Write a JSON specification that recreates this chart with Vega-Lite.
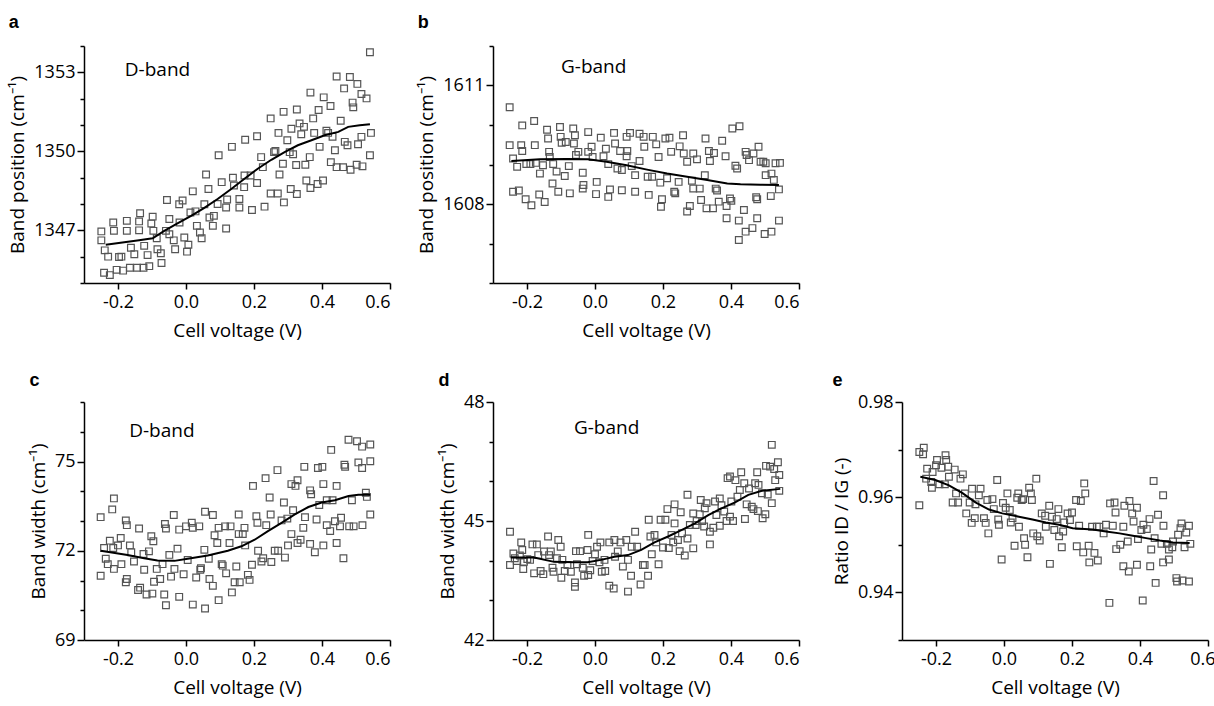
{
"$schema":"https://vega.github.io/schema/vega-lite/v6.json",
"padding":{"left":8,"top":14,"right":0,"bottom":6},
"background":"white",
"config":{"font":"Open Sans","view":{"stroke":null},
"axis":{"grid":false,"domainColor":"#000","domainWidth":1.5,"tickColor":"#000","tickWidth":1.5,"labelColor":"#000","titleColor":"#000","labelFontSize":18,"titleFontSize":19,"titleFontWeight":"normal","labelFont":"Open Sans","titleFont":"Open Sans","labelOverlap":false,"labelBound":false,"tickCount":20},
"axisX":{"tickSize":6,"labelPadding":4,"titlePadding":10},
"axisY":{"labelPadding":2,"titlePadding":6},
"title":{"anchor":"start","frame":"bounds","baseline":"alphabetic","fontSize":18,"fontWeight":"bold","font":"Liberation Sans","color":"#000"},
"point":{"shape":"square","filled":false,"size":45,"stroke":"#555","strokeWidth":1.2,"opacity":1},
"line":{"color":"#000","strokeWidth":2},
"text":{"align":"left","baseline":"middle","fontSize":19,"font":"Open Sans","color":"#000"}},
"datasets":{
"a":[{"v":-0.249,"y":1346.96},{"v":-0.249,"y":1346.62},{"v":-0.239,"y":1346.24},{"v":-0.229,"y":1346.0},{"v":-0.241,"y":1345.39},{"v":-0.224,"y":1345.3},{"v":-0.214,"y":1347.3},{"v":-0.212,"y":1346.98},{"v":-0.197,"y":1345.99},{"v":-0.19,"y":1346.0},{"v":-0.204,"y":1345.5},{"v":-0.185,"y":1345.47},{"v":-0.174,"y":1347.36},{"v":-0.174,"y":1346.98},{"v":-0.162,"y":1346.34},{"v":-0.165,"y":1345.58},{"v":-0.152,"y":1346.09},{"v":-0.144,"y":1345.58},{"v":-0.138,"y":1347.34},{"v":-0.138,"y":1347.0},{"v":-0.135,"y":1347.65},{"v":-0.125,"y":1345.58},{"v":-0.123,"y":1346.41},{"v":-0.108,"y":1345.64},{"v":-0.113,"y":1346.06},{"v":-0.102,"y":1347.26},{"v":-0.098,"y":1347.52},{"v":-0.096,"y":1346.98},{"v":-0.086,"y":1346.7},{"v":-0.084,"y":1346.28},{"v":-0.074,"y":1346.13},{"v":-0.072,"y":1345.76},{"v":-0.059,"y":1346.98},{"v":-0.056,"y":1348.15},{"v":-0.049,"y":1347.43},{"v":-0.049,"y":1346.85},{"v":-0.036,"y":1346.62},{"v":-0.032,"y":1346.28},{"v":-0.019,"y":1347.3},{"v":-0.02,"y":1347.99},{"v":-0.01,"y":1348.13},{"v":-0.005,"y":1346.73},{"v":0.003,"y":1346.19},{"v":0.007,"y":1346.45},{"v":0.013,"y":1347.68},{"v":0.02,"y":1348.48},{"v":0.028,"y":1347.72},{"v":0.032,"y":1347.17},{"v":0.041,"y":1346.92},{"v":0.046,"y":1346.7},{"v":0.054,"y":1347.99},{"v":0.059,"y":1349.12},{"v":0.066,"y":1348.57},{"v":0.069,"y":1347.49},{"v":0.082,"y":1347.55},{"v":0.079,"y":1347.17},{"v":0.096,"y":1349.85},{"v":0.093,"y":1348.0},{"v":0.105,"y":1348.83},{"v":0.118,"y":1347.87},{"v":0.121,"y":1348.17},{"v":0.118,"y":1347.07},{"v":0.135,"y":1350.17},{"v":0.138,"y":1349.0},{"v":0.141,"y":1348.7},{"v":0.157,"y":1348.19},{"v":0.157,"y":1347.87},{"v":0.171,"y":1348.64},{"v":0.172,"y":1349.08},{"v":0.174,"y":1350.44},{"v":0.194,"y":1347.77},{"v":0.19,"y":1349.08},{"v":0.209,"y":1350.57},{"v":0.209,"y":1348.8},{"v":0.221,"y":1349.78},{"v":0.226,"y":1349.4},{"v":0.231,"y":1347.9},{"v":0.249,"y":1351.25},{"v":0.249,"y":1348.4},{"v":0.259,"y":1349.97},{"v":0.263,"y":1350.01},{"v":0.27,"y":1348.4},{"v":0.275,"y":1349.12},{"v":0.272,"y":1350.7},{"v":0.285,"y":1349.53},{"v":0.287,"y":1351.5},{"v":0.288,"y":1348.06},{"v":0.298,"y":1350.42},{"v":0.305,"y":1349.97},{"v":0.308,"y":1348.57},{"v":0.315,"y":1349.89},{"v":0.31,"y":1350.86},{"v":0.326,"y":1351.59},{"v":0.324,"y":1349.48},{"v":0.326,"y":1348.38},{"v":0.334,"y":1351.06},{"v":0.339,"y":1350.65},{"v":0.347,"y":1350.93},{"v":0.351,"y":1349.49},{"v":0.354,"y":1348.89},{"v":0.364,"y":1349.78},{"v":0.366,"y":1348.61},{"v":0.366,"y":1352.23},{"v":0.374,"y":1351.25},{"v":0.377,"y":1350.7},{"v":0.387,"y":1348.76},{"v":0.39,"y":1351.57},{"v":0.393,"y":1350.17},{"v":0.403,"y":1348.89},{"v":0.405,"y":1352.05},{"v":0.413,"y":1350.78},{"v":0.418,"y":1350.7},{"v":0.425,"y":1351.72},{"v":0.426,"y":1349.59},{"v":0.431,"y":1350.55},{"v":0.438,"y":1350.04},{"v":0.443,"y":1349.4},{"v":0.443,"y":1352.84},{"v":0.455,"y":1351.16},{"v":0.462,"y":1349.4},{"v":0.465,"y":1352.39},{"v":0.467,"y":1350.36},{"v":0.475,"y":1350.23},{"v":0.482,"y":1352.82},{"v":0.484,"y":1349.3},{"v":0.49,"y":1351.85},{"v":0.492,"y":1351.67},{"v":0.502,"y":1349.49},{"v":0.504,"y":1352.56},{"v":0.506,"y":1350.27},{"v":0.516,"y":1352.18},{"v":0.516,"y":1350.55},{"v":0.519,"y":1349.43},{"v":0.531,"y":1352.01},{"v":0.541,"y":1353.76},{"v":0.541,"y":1349.85},{"v":0.544,"y":1350.7}],
"af":[{"v":-0.236,"y":1346.45},{"v":-0.138,"y":1346.62},{"v":-0.098,"y":1346.7},{"v":-0.064,"y":1346.98},{"v":-0.025,"y":1347.26},{"v":0.015,"y":1347.55},{"v":0.054,"y":1347.85},{"v":0.093,"y":1348.19},{"v":0.133,"y":1348.57},{"v":0.172,"y":1348.96},{"v":0.211,"y":1349.34},{"v":0.251,"y":1349.68},{"v":0.29,"y":1349.97},{"v":0.329,"y":1350.23},{"v":0.369,"y":1350.42},{"v":0.408,"y":1350.61},{"v":0.448,"y":1350.74},{"v":0.477,"y":1350.93},{"v":0.511,"y":1350.99},{"v":0.541,"y":1351.03}],
"b":[{"v":-0.251,"y":1610.45},{"v":-0.251,"y":1609.49},{"v":-0.241,"y":1609.15},{"v":-0.241,"y":1608.31},{"v":-0.229,"y":1608.94},{"v":-0.224,"y":1608.34},{"v":-0.217,"y":1609.49},{"v":-0.214,"y":1609.99},{"v":-0.214,"y":1609.34},{"v":-0.204,"y":1608.12},{"v":-0.202,"y":1609.01},{"v":-0.187,"y":1607.97},{"v":-0.19,"y":1609.01},{"v":-0.179,"y":1610.1},{"v":-0.177,"y":1609.49},{"v":-0.174,"y":1609.04},{"v":-0.164,"y":1608.24},{"v":-0.162,"y":1608.77},{"v":-0.153,"y":1608.98},{"v":-0.148,"y":1608.05},{"v":-0.141,"y":1609.88},{"v":-0.138,"y":1609.66},{"v":-0.135,"y":1609.32},{"v":-0.133,"y":1609.19},{"v":-0.123,"y":1609.01},{"v":-0.125,"y":1608.52},{"v":-0.113,"y":1608.82},{"v":-0.108,"y":1608.31},{"v":-0.103,"y":1609.95},{"v":-0.101,"y":1609.7},{"v":-0.098,"y":1609.55},{"v":-0.086,"y":1609.57},{"v":-0.089,"y":1608.71},{"v":-0.074,"y":1608.27},{"v":-0.077,"y":1608.96},{"v":-0.064,"y":1609.91},{"v":-0.059,"y":1609.74},{"v":-0.062,"y":1609.53},{"v":-0.056,"y":1609.24},{"v":-0.049,"y":1609.32},{"v":-0.036,"y":1608.79},{"v":-0.034,"y":1608.48},{"v":-0.036,"y":1608.39},{"v":-0.02,"y":1609.82},{"v":-0.02,"y":1609.32},{"v":-0.01,"y":1609.45},{"v":-0.007,"y":1609.19},{"v":0.003,"y":1608.25},{"v":0.005,"y":1608.56},{"v":0.017,"y":1609.68},{"v":0.025,"y":1609.21},{"v":0.032,"y":1609.4},{"v":0.039,"y":1609.01},{"v":0.039,"y":1608.18},{"v":0.044,"y":1608.37},{"v":0.056,"y":1609.8},{"v":0.059,"y":1609.53},{"v":0.066,"y":1608.9},{"v":0.074,"y":1609.34},{"v":0.079,"y":1608.86},{"v":0.079,"y":1608.35},{"v":0.093,"y":1609.7},{"v":0.093,"y":1609.21},{"v":0.095,"y":1609.34},{"v":0.103,"y":1609.8},{"v":0.108,"y":1608.96},{"v":0.118,"y":1608.73},{"v":0.118,"y":1608.31},{"v":0.131,"y":1609.09},{"v":0.131,"y":1609.78},{"v":0.143,"y":1609.7},{"v":0.145,"y":1609.45},{"v":0.155,"y":1608.69},{"v":0.158,"y":1608.23},{"v":0.168,"y":1608.69},{"v":0.17,"y":1609.7},{"v":0.18,"y":1609.51},{"v":0.187,"y":1609.19},{"v":0.192,"y":1608.54},{"v":0.194,"y":1607.93},{"v":0.197,"y":1608.12},{"v":0.207,"y":1609.66},{"v":0.212,"y":1608.65},{"v":0.219,"y":1609.68},{"v":0.224,"y":1609.32},{"v":0.233,"y":1608.31},{"v":0.236,"y":1608.27},{"v":0.249,"y":1609.46},{"v":0.246,"y":1608.56},{"v":0.259,"y":1609.74},{"v":0.261,"y":1609.28},{"v":0.271,"y":1609.07},{"v":0.271,"y":1607.81},{"v":0.279,"y":1607.95},{"v":0.285,"y":1608.59},{"v":0.289,"y":1609.28},{"v":0.289,"y":1608.39},{"v":0.3,"y":1609.13},{"v":0.308,"y":1608.39},{"v":0.312,"y":1608.1},{"v":0.325,"y":1609.66},{"v":0.323,"y":1608.73},{"v":0.328,"y":1607.89},{"v":0.335,"y":1609.34},{"v":0.338,"y":1609.09},{"v":0.347,"y":1607.89},{"v":0.35,"y":1609.29},{"v":0.355,"y":1608.39},{"v":0.359,"y":1608.34},{"v":0.364,"y":1608.06},{"v":0.374,"y":1609.6},{"v":0.384,"y":1609.21},{"v":0.387,"y":1607.95},{"v":0.387,"y":1607.64},{"v":0.397,"y":1608.14},{"v":0.401,"y":1608.08},{"v":0.404,"y":1609.91},{"v":0.413,"y":1608.97},{"v":0.418,"y":1608.9},{"v":0.425,"y":1609.97},{"v":0.423,"y":1607.58},{"v":0.438,"y":1607.85},{"v":0.443,"y":1609.32},{"v":0.446,"y":1609.24},{"v":0.443,"y":1607.3},{"v":0.453,"y":1609.11},{"v":0.463,"y":1607.39},{"v":0.466,"y":1609.28},{"v":0.474,"y":1608.17},{"v":0.477,"y":1607.64},{"v":0.477,"y":1608.12},{"v":0.481,"y":1609.45},{"v":0.487,"y":1609.07},{"v":0.495,"y":1609.07},{"v":0.502,"y":1608.73},{"v":0.502,"y":1609.03},{"v":0.499,"y":1607.24},{"v":0.517,"y":1608.2},{"v":0.519,"y":1608.77},{"v":0.519,"y":1607.3},{"v":0.526,"y":1608.61},{"v":0.531,"y":1609.03},{"v":0.541,"y":1607.58},{"v":0.541,"y":1608.37},{"v":0.544,"y":1609.04},{"v":0.423,"y":1607.09}],
"bf":[{"v":-0.246,"y":1609.09},{"v":-0.162,"y":1609.13},{"v":-0.084,"y":1609.14},{"v":-0.02,"y":1609.13},{"v":0.034,"y":1609.07},{"v":0.093,"y":1608.98},{"v":0.153,"y":1608.87},{"v":0.212,"y":1608.77},{"v":0.271,"y":1608.69},{"v":0.33,"y":1608.61},{"v":0.389,"y":1608.52},{"v":0.428,"y":1608.5},{"v":0.487,"y":1608.49},{"v":0.541,"y":1608.48}],
"c":[{"v":-0.251,"y":73.13},{"v":-0.251,"y":71.16},{"v":-0.241,"y":72.09},{"v":-0.236,"y":71.73},{"v":-0.23,"y":71.55},{"v":-0.224,"y":72.34},{"v":-0.217,"y":73.39},{"v":-0.212,"y":73.76},{"v":-0.212,"y":71.39},{"v":-0.214,"y":72.09},{"v":-0.2,"y":72.18},{"v":-0.192,"y":72.43},{"v":-0.19,"y":71.55},{"v":-0.177,"y":73.02},{"v":-0.174,"y":72.86},{"v":-0.177,"y":70.94},{"v":-0.174,"y":71.05},{"v":-0.165,"y":72.18},{"v":-0.161,"y":71.95},{"v":-0.153,"y":71.64},{"v":-0.141,"y":70.68},{"v":-0.138,"y":72.75},{"v":-0.135,"y":70.76},{"v":-0.125,"y":71.89},{"v":-0.123,"y":71.36},{"v":-0.116,"y":70.53},{"v":-0.109,"y":71.98},{"v":-0.102,"y":72.49},{"v":-0.099,"y":70.56},{"v":-0.096,"y":72.32},{"v":-0.094,"y":70.96},{"v":-0.086,"y":71.39},{"v":-0.076,"y":71.05},{"v":-0.069,"y":71.55},{"v":-0.064,"y":70.53},{"v":-0.062,"y":72.9},{"v":-0.059,"y":70.17},{"v":-0.059,"y":72.75},{"v":-0.049,"y":71.86},{"v":-0.044,"y":71.13},{"v":-0.036,"y":73.2},{"v":-0.034,"y":71.39},{"v":-0.025,"y":72.07},{"v":-0.02,"y":70.45},{"v":-0.02,"y":72.71},{"v":-0.007,"y":71.21},{"v":0.0,"y":72.82},{"v":0.005,"y":71.69},{"v":0.017,"y":72.94},{"v":0.02,"y":72.77},{"v":0.02,"y":70.19},{"v":0.03,"y":71.1},{"v":0.039,"y":72.82},{"v":0.042,"y":71.36},{"v":0.044,"y":71.41},{"v":0.056,"y":73.31},{"v":0.056,"y":70.06},{"v":0.054,"y":72.03},{"v":0.067,"y":71.73},{"v":0.069,"y":71.05},{"v":0.079,"y":73.2},{"v":0.079,"y":70.82},{"v":0.084,"y":72.52},{"v":0.092,"y":72.26},{"v":0.096,"y":70.34},{"v":0.096,"y":72.77},{"v":0.105,"y":71.55},{"v":0.108,"y":71.5},{"v":0.115,"y":72.82},{"v":0.118,"y":71.24},{"v":0.131,"y":72.82},{"v":0.128,"y":72.26},{"v":0.135,"y":70.6},{"v":0.143,"y":70.94},{"v":0.148,"y":71.47},{"v":0.155,"y":73.22},{"v":0.155,"y":72.56},{"v":0.158,"y":70.94},{"v":0.167,"y":72.56},{"v":0.172,"y":72.77},{"v":0.174,"y":72.18},{"v":0.182,"y":71.19},{"v":0.187,"y":71.02},{"v":0.194,"y":71.53},{"v":0.197,"y":74.18},{"v":0.207,"y":73.16},{"v":0.21,"y":72.94},{"v":0.212,"y":72.0},{"v":0.222,"y":71.64},{"v":0.227,"y":71.75},{"v":0.234,"y":74.44},{"v":0.236,"y":72.86},{"v":0.246,"y":73.79},{"v":0.249,"y":73.22},{"v":0.251,"y":71.62},{"v":0.261,"y":72.0},{"v":0.269,"y":74.71},{"v":0.271,"y":72.0},{"v":0.281,"y":73.02},{"v":0.288,"y":73.62},{"v":0.291,"y":71.77},{"v":0.298,"y":73.08},{"v":0.3,"y":72.18},{"v":0.31,"y":72.56},{"v":0.31,"y":74.24},{"v":0.315,"y":73.36},{"v":0.322,"y":74.18},{"v":0.328,"y":74.37},{"v":0.328,"y":72.26},{"v":0.337,"y":72.37},{"v":0.345,"y":72.77},{"v":0.35,"y":73.13},{"v":0.348,"y":74.82},{"v":0.365,"y":74.03},{"v":0.365,"y":72.23},{"v":0.368,"y":73.9},{"v":0.379,"y":71.95},{"v":0.384,"y":73.05},{"v":0.388,"y":74.78},{"v":0.392,"y":73.54},{"v":0.401,"y":74.82},{"v":0.404,"y":74.24},{"v":0.404,"y":72.18},{"v":0.414,"y":72.86},{"v":0.414,"y":73.7},{"v":0.424,"y":72.66},{"v":0.427,"y":75.39},{"v":0.431,"y":73.7},{"v":0.438,"y":72.99},{"v":0.443,"y":74.18},{"v":0.443,"y":72.26},{"v":0.453,"y":72.82},{"v":0.456,"y":73.11},{"v":0.463,"y":71.75},{"v":0.466,"y":74.89},{"v":0.468,"y":74.82},{"v":0.478,"y":75.73},{"v":0.48,"y":72.82},{"v":0.488,"y":73.7},{"v":0.493,"y":72.82},{"v":0.503,"y":75.68},{"v":0.507,"y":74.97},{"v":0.518,"y":75.5},{"v":0.518,"y":74.78},{"v":0.519,"y":72.86},{"v":0.529,"y":73.95},{"v":0.532,"y":73.81},{"v":0.542,"y":75.57},{"v":0.542,"y":75.01},{"v":0.542,"y":73.22}],
"cf":[{"v":-0.251,"y":72.0},{"v":-0.172,"y":71.86},{"v":-0.123,"y":71.75},{"v":-0.084,"y":71.67},{"v":-0.034,"y":71.66},{"v":0.005,"y":71.73},{"v":0.064,"y":71.84},{"v":0.123,"y":72.0},{"v":0.163,"y":72.15},{"v":0.202,"y":72.37},{"v":0.241,"y":72.66},{"v":0.281,"y":72.94},{"v":0.32,"y":73.22},{"v":0.36,"y":73.47},{"v":0.399,"y":73.62},{"v":0.438,"y":73.7},{"v":0.478,"y":73.84},{"v":0.507,"y":73.88},{"v":0.542,"y":73.88}],
"d":[{"v":-0.25,"y":44.73},{"v":-0.25,"y":43.89},{"v":-0.24,"y":44.18},{"v":-0.236,"y":44.06},{"v":-0.23,"y":43.99},{"v":-0.221,"y":44.13},{"v":-0.217,"y":44.46},{"v":-0.214,"y":44.27},{"v":-0.211,"y":43.79},{"v":-0.209,"y":43.97},{"v":-0.199,"y":44.04},{"v":-0.191,"y":44.02},{"v":-0.184,"y":44.41},{"v":-0.179,"y":43.68},{"v":-0.171,"y":44.41},{"v":-0.167,"y":44.14},{"v":-0.16,"y":43.74},{"v":-0.152,"y":43.66},{"v":-0.15,"y":44.23},{"v":-0.138,"y":44.61},{"v":-0.135,"y":44.14},{"v":-0.13,"y":44.23},{"v":-0.125,"y":43.82},{"v":-0.122,"y":43.72},{"v":-0.112,"y":44.06},{"v":-0.108,"y":44.52},{"v":-0.101,"y":44.35},{"v":-0.099,"y":43.57},{"v":-0.096,"y":44.02},{"v":-0.089,"y":43.74},{"v":-0.081,"y":43.89},{"v":-0.071,"y":43.72},{"v":-0.059,"y":43.45},{"v":-0.059,"y":43.34},{"v":-0.056,"y":44.24},{"v":-0.053,"y":43.91},{"v":-0.044,"y":44.24},{"v":-0.036,"y":43.82},{"v":-0.032,"y":43.62},{"v":-0.022,"y":44.27},{"v":-0.02,"y":44.65},{"v":-0.02,"y":43.64},{"v":-0.014,"y":43.76},{"v":-0.007,"y":43.99},{"v":0.0,"y":44.16},{"v":0.006,"y":44.35},{"v":0.013,"y":43.96},{"v":0.016,"y":44.46},{"v":0.02,"y":43.72},{"v":0.028,"y":44.02},{"v":0.03,"y":43.74},{"v":0.042,"y":44.46},{"v":0.042,"y":43.37},{"v":0.055,"y":43.3},{"v":0.057,"y":44.52},{"v":0.059,"y":44.1},{"v":0.067,"y":44.23},{"v":0.075,"y":44.46},{"v":0.082,"y":43.85},{"v":0.092,"y":44.52},{"v":0.097,"y":43.22},{"v":0.097,"y":44.02},{"v":0.106,"y":43.62},{"v":0.108,"y":44.35},{"v":0.118,"y":44.73},{"v":0.124,"y":44.35},{"v":0.134,"y":43.4},{"v":0.141,"y":43.89},{"v":0.146,"y":43.89},{"v":0.156,"y":43.62},{"v":0.158,"y":45.03},{"v":0.163,"y":44.61},{"v":0.167,"y":44.16},{"v":0.175,"y":44.65},{"v":0.18,"y":44.46},{"v":0.187,"y":43.91},{"v":0.193,"y":45.03},{"v":0.2,"y":44.33},{"v":0.207,"y":45.03},{"v":0.213,"y":45.3},{"v":0.217,"y":44.32},{"v":0.225,"y":44.65},{"v":0.23,"y":44.46},{"v":0.234,"y":45.42},{"v":0.234,"y":44.94},{"v":0.244,"y":44.52},{"v":0.249,"y":44.24},{"v":0.252,"y":45.22},{"v":0.256,"y":44.69},{"v":0.264,"y":44.13},{"v":0.272,"y":45.66},{"v":0.272,"y":44.56},{"v":0.279,"y":44.9},{"v":0.289,"y":45.19},{"v":0.289,"y":44.31},{"v":0.296,"y":44.9},{"v":0.299,"y":45.0},{"v":0.308,"y":45.17},{"v":0.311,"y":45.53},{"v":0.315,"y":45.0},{"v":0.321,"y":44.86},{"v":0.323,"y":45.32},{"v":0.328,"y":45.45},{"v":0.338,"y":44.73},{"v":0.338,"y":44.41},{"v":0.348,"y":44.83},{"v":0.353,"y":45.49},{"v":0.357,"y":45.15},{"v":0.367,"y":45.57},{"v":0.367,"y":44.88},{"v":0.372,"y":45.4},{"v":0.38,"y":45.24},{"v":0.387,"y":45.0},{"v":0.39,"y":46.08},{"v":0.397,"y":46.12},{"v":0.397,"y":45.11},{"v":0.401,"y":45.49},{"v":0.406,"y":45.0},{"v":0.413,"y":46.03},{"v":0.419,"y":45.61},{"v":0.426,"y":45.78},{"v":0.43,"y":46.23},{"v":0.439,"y":45.95},{"v":0.441,"y":45.05},{"v":0.446,"y":45.42},{"v":0.453,"y":45.82},{"v":0.461,"y":45.36},{"v":0.466,"y":45.3},{"v":0.471,"y":45.95},{"v":0.477,"y":46.23},{"v":0.479,"y":45.25},{"v":0.481,"y":45.91},{"v":0.491,"y":45.7},{"v":0.493,"y":45.07},{"v":0.501,"y":45.17},{"v":0.503,"y":46.39},{"v":0.508,"y":45.67},{"v":0.515,"y":46.37},{"v":0.52,"y":46.92},{"v":0.52,"y":45.45},{"v":0.527,"y":46.31},{"v":0.53,"y":46.03},{"v":0.538,"y":46.48},{"v":0.542,"y":46.16},{"v":0.542,"y":45.76}],
"df":[{"v":-0.248,"y":44.08},{"v":-0.179,"y":44.08},{"v":-0.12,"y":43.97},{"v":-0.061,"y":43.96},{"v":-0.022,"y":43.96},{"v":0.018,"y":44.02},{"v":0.057,"y":44.1},{"v":0.097,"y":44.14},{"v":0.136,"y":44.27},{"v":0.175,"y":44.46},{"v":0.215,"y":44.61},{"v":0.254,"y":44.77},{"v":0.294,"y":44.94},{"v":0.333,"y":45.15},{"v":0.372,"y":45.32},{"v":0.412,"y":45.47},{"v":0.451,"y":45.66},{"v":0.491,"y":45.76},{"v":0.545,"y":45.81}],
"e":[{"v":-0.249,"y":0.9695},{"v":-0.236,"y":0.9704},{"v":-0.238,"y":0.969},{"v":-0.249,"y":0.9583},{"v":-0.226,"y":0.966},{"v":-0.229,"y":0.9639},{"v":-0.214,"y":0.9632},{"v":-0.212,"y":0.962},{"v":-0.21,"y":0.9653},{"v":-0.2,"y":0.9667},{"v":-0.197,"y":0.9678},{"v":-0.19,"y":0.9627},{"v":-0.184,"y":0.9662},{"v":-0.174,"y":0.9627},{"v":-0.172,"y":0.9688},{"v":-0.17,"y":0.9678},{"v":-0.164,"y":0.9664},{"v":-0.162,"y":0.9643},{"v":-0.151,"y":0.9589},{"v":-0.145,"y":0.9658},{"v":-0.141,"y":0.9608},{"v":-0.135,"y":0.9589},{"v":-0.128,"y":0.9639},{"v":-0.121,"y":0.9648},{"v":-0.115,"y":0.9608},{"v":-0.111,"y":0.9566},{"v":-0.101,"y":0.9589},{"v":-0.095,"y":0.9546},{"v":-0.094,"y":0.9618},{"v":-0.086,"y":0.9556},{"v":-0.084,"y":0.9585},{"v":-0.074,"y":0.9604},{"v":-0.069,"y":0.9618},{"v":-0.059,"y":0.9556},{"v":-0.054,"y":0.9546},{"v":-0.049,"y":0.9594},{"v":-0.046,"y":0.9524},{"v":-0.034,"y":0.9596},{"v":-0.03,"y":0.9575},{"v":-0.02,"y":0.9636},{"v":-0.017,"y":0.9553},{"v":-0.015,"y":0.9542},{"v":-0.007,"y":0.9469},{"v":-0.003,"y":0.9588},{"v":0.005,"y":0.9578},{"v":0.01,"y":0.9608},{"v":0.017,"y":0.9573},{"v":0.02,"y":0.9547},{"v":0.025,"y":0.9556},{"v":0.031,"y":0.9498},{"v":0.039,"y":0.9599},{"v":0.042,"y":0.9608},{"v":0.044,"y":0.9538},{"v":0.052,"y":0.9594},{"v":0.056,"y":0.9596},{"v":0.059,"y":0.9514},{"v":0.062,"y":0.95},{"v":0.069,"y":0.9474},{"v":0.074,"y":0.962},{"v":0.079,"y":0.9608},{"v":0.082,"y":0.9594},{"v":0.086,"y":0.9524},{"v":0.095,"y":0.9639},{"v":0.098,"y":0.9518},{"v":0.105,"y":0.9509},{"v":0.111,"y":0.9566},{"v":0.121,"y":0.9561},{"v":0.123,"y":0.9538},{"v":0.133,"y":0.9582},{"v":0.135,"y":0.946},{"v":0.141,"y":0.9559},{"v":0.148,"y":0.9531},{"v":0.155,"y":0.9554},{"v":0.16,"y":0.9575},{"v":0.162,"y":0.9518},{"v":0.17,"y":0.9495},{"v":0.174,"y":0.9528},{"v":0.177,"y":0.9547},{"v":0.187,"y":0.9566},{"v":0.194,"y":0.9552},{"v":0.2,"y":0.9568},{"v":0.212,"y":0.9594},{"v":0.214,"y":0.9497},{"v":0.221,"y":0.954},{"v":0.226,"y":0.9592},{"v":0.233,"y":0.9484},{"v":0.236,"y":0.9629},{"v":0.239,"y":0.9608},{"v":0.249,"y":0.9498},{"v":0.251,"y":0.9463},{"v":0.259,"y":0.9538},{"v":0.266,"y":0.9483},{"v":0.273,"y":0.9538},{"v":0.276,"y":0.9467},{"v":0.28,"y":0.9538},{"v":0.293,"y":0.9524},{"v":0.3,"y":0.9542},{"v":0.31,"y":0.9378},{"v":0.312,"y":0.9587},{"v":0.32,"y":0.954},{"v":0.325,"y":0.9589},{"v":0.328,"y":0.9568},{"v":0.33,"y":0.9491},{"v":0.342,"y":0.95},{"v":0.351,"y":0.9538},{"v":0.354,"y":0.9582},{"v":0.351,"y":0.9455},{"v":0.364,"y":0.9507},{"v":0.367,"y":0.9444},{"v":0.369,"y":0.9592},{"v":0.377,"y":0.9566},{"v":0.381,"y":0.9549},{"v":0.391,"y":0.9578},{"v":0.391,"y":0.9458},{"v":0.394,"y":0.9512},{"v":0.404,"y":0.9531},{"v":0.408,"y":0.9383},{"v":0.41,"y":0.9542},{"v":0.42,"y":0.9533},{"v":0.428,"y":0.9554},{"v":0.43,"y":0.9455},{"v":0.433,"y":0.949},{"v":0.44,"y":0.9634},{"v":0.443,"y":0.9514},{"v":0.446,"y":0.942},{"v":0.453,"y":0.9563},{"v":0.463,"y":0.9502},{"v":0.468,"y":0.9604},{"v":0.469,"y":0.954},{"v":0.468,"y":0.9463},{"v":0.479,"y":0.9502},{"v":0.485,"y":0.949},{"v":0.485,"y":0.9469},{"v":0.495,"y":0.9495},{"v":0.497,"y":0.9507},{"v":0.507,"y":0.943},{"v":0.509,"y":0.9423},{"v":0.512,"y":0.9521},{"v":0.519,"y":0.9535},{"v":0.522,"y":0.9545},{"v":0.525,"y":0.9425},{"v":0.531,"y":0.9495},{"v":0.536,"y":0.9526},{"v":0.544,"y":0.954},{"v":0.544,"y":0.9423},{"v":0.548,"y":0.9502}],
"ef":[{"v":-0.246,"y":0.9643},{"v":-0.202,"y":0.9636},{"v":-0.162,"y":0.9625},{"v":-0.123,"y":0.9609},{"v":-0.084,"y":0.9589},{"v":-0.044,"y":0.9574},{"v":-0.005,"y":0.9566},{"v":0.044,"y":0.9559},{"v":0.084,"y":0.9553},{"v":0.123,"y":0.9547},{"v":0.162,"y":0.9542},{"v":0.202,"y":0.9535},{"v":0.261,"y":0.9532},{"v":0.3,"y":0.9528},{"v":0.34,"y":0.9524},{"v":0.379,"y":0.9519},{"v":0.418,"y":0.9514},{"v":0.458,"y":0.9509},{"v":0.497,"y":0.9505},{"v":0.546,"y":0.9504}]
},
"columns":3,
"spacing":{"row":119,"column":103},
"bounds":"flush",
"concat":[
{"width":306,"height":237,"title":{"text":"a","offset":5},
"layer":[
{"data":{"name":"a"},"mark":"point","encoding":{
"x":{"field":"v","type":"quantitative","scale":{"domain":[-0.3,0.6],"nice":false,"zero":false},"axis":{"values":[-0.2,0,0.2,0.4,0.6],"format":".1f","labelExpr":"replace(datum.label,'−','-')","title":"Cell voltage (V)"}},
"y":{"field":"y","type":"quantitative","scale":{"domain":[1345,1354],"nice":false,"zero":false},"axis":{"values":[1345,1346,1347,1348,1349,1350,1351,1352,1353,1354],"tickCount":20,"format":"d","labelExpr":"datum.value % 3 == 0 ? datum.label : ''","tickSize":{"condition":{"test":"datum.value % 3 == 0","value":7},"value":4},"title":"Band position (cm⁻¹)"}}}},
{"data":{"name":"af"},"mark":"line","encoding":{"x":{"field":"v","type":"quantitative"},"y":{"field":"y","type":"quantitative"}}},
{"data":{"values":[{"v":-0.18,"y":1353.1,"label":"D-band"}]},"mark":"text","encoding":{"x":{"field":"v","type":"quantitative"},"y":{"field":"y","type":"quantitative"},"text":{"field":"label"}}}
]},
{"width":306,"height":237,"title":{"text":"b","offset":5},
"layer":[
{"data":{"name":"b"},"mark":"point","encoding":{
"x":{"field":"v","type":"quantitative","scale":{"domain":[-0.3,0.6],"nice":false,"zero":false},"axis":{"values":[-0.2,0,0.2,0.4,0.6],"format":".1f","labelExpr":"replace(datum.label,'−','-')","title":"Cell voltage (V)"}},
"y":{"field":"y","type":"quantitative","scale":{"domain":[1606,1612],"nice":false,"zero":false},"axis":{"values":[1606,1607,1608,1609,1610,1611,1612],"tickCount":20,"format":"d","labelExpr":"(datum.value - 1608) % 3 == 0 ? datum.label : ''","tickSize":{"condition":{"test":"(datum.value - 1608) % 3 == 0","value":7},"value":4},"title":"Band position (cm⁻¹)"}}}},
{"data":{"name":"bf"},"mark":"line","encoding":{"x":{"field":"v","type":"quantitative"},"y":{"field":"y","type":"quantitative"}}},
{"data":{"values":[{"v":-0.1,"y":1611.46,"label":"G-band"}]},"mark":"text","encoding":{"x":{"field":"v","type":"quantitative"},"y":{"field":"y","type":"quantitative"},"text":{"field":"label"}}}
]},
{"width":306,"height":237,"data":{"values":[]},"mark":"point"},
{"width":306,"height":238,"title":{"text":"c","offset":3},
"layer":[
{"data":{"name":"c"},"mark":"point","encoding":{
"x":{"field":"v","type":"quantitative","scale":{"domain":[-0.3,0.6],"nice":false,"zero":false},"axis":{"values":[-0.2,0,0.2,0.4,0.6],"format":".1f","labelExpr":"replace(datum.label,'−','-')","title":"Cell voltage (V)"}},
"y":{"field":"y","type":"quantitative","scale":{"domain":[69,77],"nice":false,"zero":false},"axis":{"values":[69,70,71,72,73,74,75,76,77],"tickCount":20,"format":"d","labelExpr":"datum.value % 3 == 0 ? datum.label : ''","tickSize":{"condition":{"test":"datum.value % 3 == 0","value":7},"value":4},"title":"Band width (cm⁻¹)"}}}},
{"data":{"name":"cf"},"mark":"line","encoding":{"x":{"field":"v","type":"quantitative"},"y":{"field":"y","type":"quantitative"}}},
{"data":{"values":[{"v":-0.167,"y":76.02,"label":"D-band"}]},"mark":"text","encoding":{"x":{"field":"v","type":"quantitative"},"y":{"field":"y","type":"quantitative"},"text":{"field":"label"}}}
]},
{"width":306,"height":238,"title":{"text":"d","offset":3},
"layer":[
{"data":{"name":"d"},"mark":"point","encoding":{
"x":{"field":"v","type":"quantitative","scale":{"domain":[-0.3,0.6],"nice":false,"zero":false},"axis":{"values":[-0.2,0,0.2,0.4,0.6],"format":".1f","labelExpr":"replace(datum.label,'−','-')","title":"Cell voltage (V)"}},
"y":{"field":"y","type":"quantitative","scale":{"domain":[42,48],"nice":false,"zero":false},"axis":{"values":[42,43,44,45,46,47,48],"tickCount":20,"format":"d","labelExpr":"(datum.value - 42) % 3 == 0 ? datum.label : ''","tickSize":{"condition":{"test":"(datum.value - 42) % 3 == 0","value":7},"value":4},"title":"Band width (cm⁻¹)"}}}},
{"data":{"name":"df"},"mark":"line","encoding":{"x":{"field":"v","type":"quantitative"},"y":{"field":"y","type":"quantitative"}}},
{"data":{"values":[{"v":-0.062,"y":47.34,"label":"G-band"}]},"mark":"text","encoding":{"x":{"field":"v","type":"quantitative"},"y":{"field":"y","type":"quantitative"},"text":{"field":"label"}}}
]},
{"width":306,"height":238,"title":{"text":"e","offset":3},
"layer":[
{"data":{"name":"e"},"mark":"point","encoding":{
"x":{"field":"v","type":"quantitative","scale":{"domain":[-0.3,0.6],"nice":false,"zero":false},"axis":{"values":[-0.2,0,0.2,0.4,0.6],"format":".1f","labelExpr":"replace(datum.label,'−','-')","labelFlush":true,"labelFlushOffset":7,"title":"Cell voltage (V)"}},
"y":{"field":"y","type":"quantitative","scale":{"domain":[0.93,0.98],"nice":false,"zero":false},"axis":{"values":[0.93,0.94,0.95,0.96,0.97,0.98],"tickCount":20,"format":".2f","labelExpr":"round(datum.value * 100) % 2 == 0 ? datum.label : ''","tickSize":{"condition":{"test":"round(datum.value * 100) % 2 == 0","value":7},"value":4},"title":"Ratio ID / IG (-)"}}}},
{"data":{"name":"ef"},"mark":"line","encoding":{"x":{"field":"v","type":"quantitative"},"y":{"field":"y","type":"quantitative"}}}
]}
]
}
